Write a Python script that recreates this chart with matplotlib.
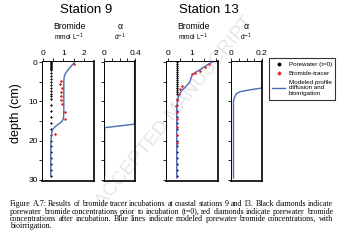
import matplotlib
matplotlib.use("Agg")
import matplotlib.pyplot as plt
from matplotlib.lines import Line2D

plt.rcParams['font.family'] = ['Liberation Sans', 'DejaVu Sans']

W, H = 340, 241

# ---- Station 9 -------------------------------------------------------------
st9_pw_depth = [0, 0.25, 0.5, 0.75, 1.0, 1.25, 1.5, 1.75, 2.0, 2.75, 3.5, 4.25, 5.0,
                5.75, 6.5, 7.25, 8.0, 8.75, 9.5, 11, 12.5, 14, 15.5, 17, 18.5, 20,
                21.5, 23, 24.5, 26, 27.5, 29]
st9_pw_conc = [0.4] * len(st9_pw_depth)

st9_tr_depth = [0.4, 4.75, 5.6, 6.5, 7.5, 8.5, 9.6, 10.6, 12.7, 14.6, 18.4]
st9_tr_conc = [1.52, 0.88, 0.85, 0.95, 0.86, 0.90, 0.90, 0.93, 1.10, 1.08, 0.60]

st9_mod_depth = [0, 0.5, 1, 1.5, 2, 2.5, 3, 3.5, 4, 5, 6, 8, 10, 12, 14, 14.5, 15,
                 15.5, 16, 16.5, 17, 17.5, 18, 19, 20, 22, 25, 29]
st9_mod_conc = [1.55, 1.47, 1.38, 1.30, 1.22, 1.15, 1.09, 1.05, 1.03, 1.02, 1.02,
                1.02, 1.02, 1.02, 1.01, 0.99, 0.94, 0.84, 0.70, 0.58, 0.50, 0.45,
                0.43, 0.41, 0.39, 0.38, 0.38, 0.38]

st9_alpha_depth = [0, 15.8, 16.7, 29]
st9_alpha = [0.395, 0.395, 0.008, 0.008]

# ---- Station 13 ------------------------------------------------------------
st13_pw_depth = [0, 0.5, 1, 1.5, 2, 2.5, 3, 3.5, 4, 4.5, 5, 5.5, 6, 6.5, 7, 7.5, 8,
                 9.5, 11, 12.5, 14, 15.5, 17, 18.5, 20, 21.5, 23, 24.5, 26, 27.5, 29]
st13_pw_conc = [0.37] * len(st13_pw_depth)

st13_tr_depth = [0.4, 1.25, 2.2, 2.7, 3.1, 6.0, 6.8, 8.2, 9.7, 11.2, 12.7, 14.5,
                 16.5, 18.5, 20.5]
st13_tr_conc = [1.72, 1.55, 1.35, 1.15, 1.00, 0.60, 0.52, 0.45, 0.39, 0.36, 0.37,
                0.37, 0.37, 0.37, 0.37]

st13_mod_depth = [0, 0.5, 1, 1.5, 2, 2.5, 3, 3.5, 4, 4.5, 5, 5.5, 6, 6.5, 7, 7.5, 8,
                  8.5, 9, 10, 11, 12, 20, 29.5]
st13_mod_conc = [1.85, 1.70, 1.57, 1.44, 1.32, 1.18, 1.06, 1.00, 0.97, 0.95, 0.92,
                 0.86, 0.78, 0.70, 0.62, 0.55, 0.50, 0.46, 0.43, 0.40, 0.38, 0.37,
                 0.37, 0.37]

st13_alpha_depth = [0, 6.6, 7.0, 7.5, 8.0, 9.0, 10.0, 29.5]
st13_alpha = [0.198, 0.198, 0.13, 0.06, 0.035, 0.022, 0.016, 0.016]

BLUE = '#4a6cb3'
RED = '#e0303a'

fig = plt.figure(figsize=(W / 100, H / 100), dpi=100)


def box(x0, y0, x1, y1):
    return [x0 / W, 1 - y1 / H, (x1 - x0) / W, (y1 - y0) / H]


def style(ax, xlim, major, minor, labels, ylabels):
    ax.set_facecolor('none')
    ax.set_xlim(*xlim)
    ax.set_ylim(30.3, -0.3)
    ax.xaxis.tick_top()
    ax.set_xticks(major)
    ax.set_xticklabels(labels)
    ax.set_xticks(minor, minor=True)
    ax.set_yticks([0, 10, 20, 30])
    ax.set_yticks([5, 15, 25], minor=True)
    if ylabels:
        ax.set_yticklabels(['0', '10', '20', '30'])
    else:
        ax.set_yticklabels([])
    ax.tick_params(axis='both', which='both', direction='out', length=2.2,
                   width=0.6, labelsize=6, pad=1)
    ax.tick_params(axis='y', which='both', right=False)
    for s in ('top', 'left'):
        ax.spines[s].set_linewidth(0.7)
    for s in ('bottom', 'right'):
        ax.spines[s].set_linewidth(1.2)


ax1 = fig.add_axes(box(42, 61, 94, 181))
ax2 = fig.add_axes(box(104, 61, 135, 181))
ax3 = fig.add_axes(box(166, 61, 218, 181))
ax4 = fig.add_axes(box(231, 61, 262, 181))

mk = dict(linestyle='none', marker='D', markeredgewidth=0)
for ax, pd, pc, td, tc, md, mc in (
        (ax1, st9_pw_depth, st9_pw_conc, st9_tr_depth, st9_tr_conc, st9_mod_depth, st9_mod_conc),
        (ax3, st13_pw_depth, st13_pw_conc, st13_tr_depth, st13_tr_conc, st13_mod_depth, st13_mod_conc)):
    ax.plot(pc, pd, color='black', markersize=1.4, **mk, zorder=3)
    ax.plot(mc, md, color=BLUE, linewidth=1.0, zorder=4)
    ax.plot(tc, td, color=RED, markersize=1.7, **mk, zorder=5)

ax2.plot(st9_alpha, st9_alpha_depth, color=BLUE, linewidth=1.0)
ax4.plot(st13_alpha, st13_alpha_depth, color=BLUE, linewidth=1.0)

style(ax1, (-0.05, 2.5), [0, 1, 2], [0.5, 1.5], ['0', '1', '2'], True)
style(ax2, (0, 0.4), [0, 0.4], [0.1, 0.2, 0.3], ['0', '0.4'], False)
style(ax3, (-0.08, 2.1), [0, 1, 2], [0.5, 1.5], ['0', '1', '2'], False)
style(ax4, (0, 0.2), [0, 0.2], [0.05, 0.1, 0.15], ['0', '0.2'], False)


def ft(x, y, s, **kw):
    fig.text(x / W, 1 - y / H, s, ha='center', va='center', **kw)


ft(86, 10, 'Station 9', fontsize=9.5)
ft(209, 10, 'Station 13', fontsize=9.5)
for cx, cxa in ((69, 120), (193, 246)):
    ft(cx, 26, 'Bromide', fontsize=6.2)
    ft(cx, 37.5, r'mmol L$^{-1}$', fontsize=4.8)
    ft(cxa, 26, 'α', fontsize=6.2)
    ft(cxa, 37.5, r'd$^{-1}$', fontsize=4.8)
ft(16, 113, 'depth (cm)', fontsize=9, rotation=90)

# legend
handles = [Line2D([], [], color='black', marker='o', markersize=1.8, linestyle='none'),
           Line2D([], [], color=RED, marker='D', markersize=1.5, linestyle='none'),
           Line2D([], [], color=BLUE, linewidth=1.0)]
leg = fig.legend(handles, ['Porewater (t=0)', 'Bromide-tracer',
                           'Modeled profile\ndiffusion and\nbioirrigation'],
                 loc='upper left', bbox_to_anchor=(269 / W, 1 - 58 / H),
                 fontsize=4.5, frameon=True, fancybox=False, borderpad=0.55,
                 handlelength=2.0, handletextpad=0.6, labelspacing=0.6,
                 borderaxespad=0)
leg.get_frame().set_edgecolor('black')
leg.get_frame().set_linewidth(0.8)

# diagonal watermark
fig.text(175 / W, 1 - 112 / H, 'ACCEPTED MANUSCRIPT', rotation=51, ha='center',
         va='center', fontsize=14, color='#e6e6e6', zorder=-5)

# justified caption
caption = [
    "Figure A.7: Results of bromide tracer incubations at coastal stations 9 and 13. Black diamonds indicate",
    "porewater bromide concentrations prior to incubation (t=0), red diamonds indicate porewater bromide",
    "concentrations after incubation. Blue lines indicate modeled porewater bromide concentrations, with",
    "bioirrigation.",
]
cap_y = [204.5, 211.5, 218.7, 225.8]
x_left, x_right = 10, 333
renderer = fig.canvas.get_renderer()
for i, (line, y) in enumerate(zip(caption, cap_y)):
    words = line.split(' ')
    texts = [fig.text(0, 1 - y / H, w, fontsize=5.7, family='Liberation Serif',
                      va='center', ha='left') for w in words]
    widths = [t.get_window_extent(renderer).width for t in texts]
    if i < len(caption) - 1 and len(words) > 1:
        gap = (x_right - x_left - sum(widths)) / (len(words) - 1)
    else:
        gap = 1.5
    x = x_left
    for t, w in zip(texts, widths):
        t.set_x(x / W)
        x += w + gap

fig.savefig('out.png', dpi=100)
